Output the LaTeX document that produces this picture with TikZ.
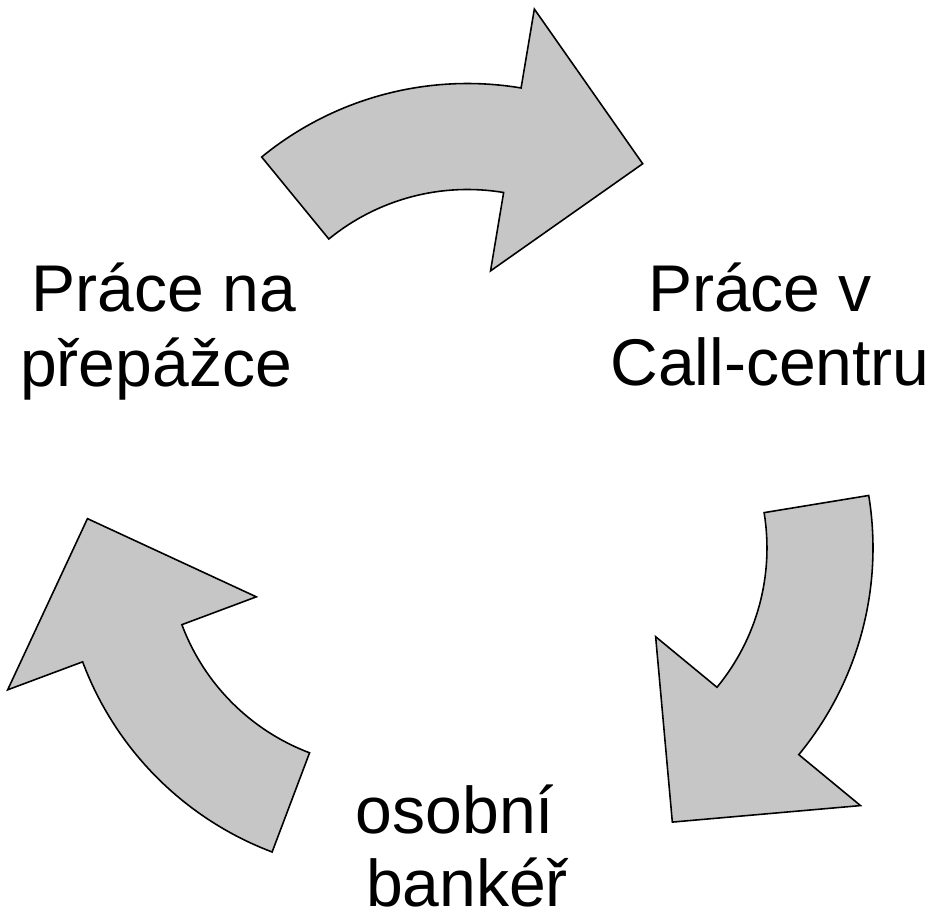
\documentclass[tikz,border=0pt]{standalone}
\usepackage{fontspec}
\setmainfont{Liberation Sans}
\usetikzlibrary{calc}
\definecolor{arrfill}{RGB}{198,198,198}
\tikzset{
  cyclearrow/.style={draw=black, fill=arrfill, line width=0.9pt, line join=miter},
  lbl/.style={anchor=base, inner sep=0pt, font=\fontsize{37.6}{43}\selectfont}
}
\begin{document}
\begin{tikzpicture}[x=0.02cm, y=0.02cm]
\useasboundingbox (0,0) rectangle (933,918);
\coordinate (c1) at (467.5,509.5);
\coordinate (c2) at (548,370);
\coordinate (c3) at (387,370);
% top arrow
\draw[cyclearrow] ($(c1)+(129.3:325)$) arc[start angle=129.3, end angle=80.5, radius=6.5cm]
  -- ($(c1)+(80.5:405)$) -- ($(c1)+(54.4:301)$) -- ($(c1)+(80.5:139.5)$)
  -- ($(c1)+(80.5:219)$) arc[start angle=80.5, end angle=129.3, radius=4.38cm] -- cycle;
% right arrow
\draw[cyclearrow] ($(c2)+(9.3:325)$) arc[start angle=9.3, end angle=-39.5, radius=6.5cm]
  -- ($(c2)+(-39.5:405)$) -- ($(c2)+(-65.6:301)$) -- ($(c2)+(-39.5:139.5)$)
  -- ($(c2)+(-39.5:219)$) arc[start angle=-39.5, end angle=9.3, radius=4.38cm] -- cycle;
% left arrow
\draw[cyclearrow] ($(c3)+(249.3:325)$) arc[start angle=249.3, end angle=200.5, radius=6.5cm]
  -- ($(c3)+(200.5:405)$) -- ($(c3)+(174.4:301)$) -- ($(c3)+(200.5:139.5)$)
  -- ($(c3)+(200.5:219)$) arc[start angle=200.5, end angle=249.3, radius=4.38cm] -- cycle;
% labels
\node[lbl] (left1) at (164,606) {Práce na};
\node[lbl] (left2) at (156,531) {přepážce};
\node[lbl] (right1) at (760,606) {Práce v};
\node[lbl] (right2) at (770,532) {Call-centru};
\node[lbl] (bot1) at (455,84) {osobní};
\node[lbl] (bot2) at (467,11) {bankéř};
\end{tikzpicture}
\end{document}
